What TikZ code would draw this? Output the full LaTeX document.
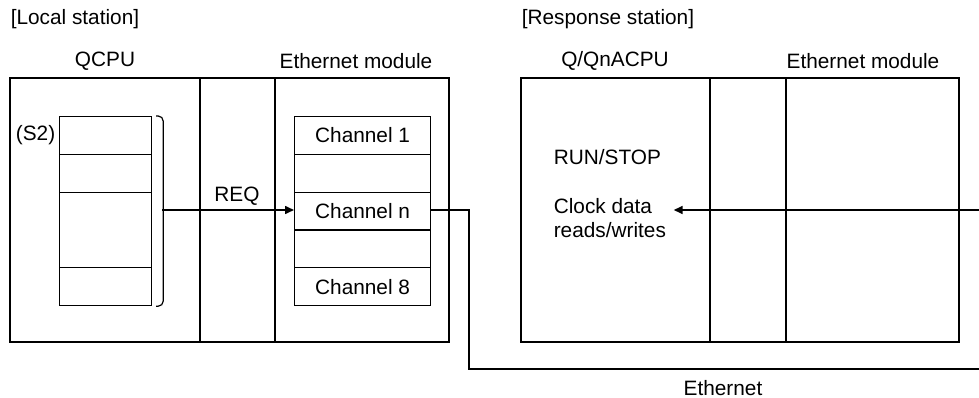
\documentclass[tikz,border=0pt]{standalone}
\usepackage{fontspec}
\setmainfont{Liberation Sans}
\usetikzlibrary{arrows.meta,positioning}

\begin{document}
\begin{tikzpicture}[x=1pt,y=-1pt,line width=1.6pt,>={Triangle[length=9pt,width=8pt]},
every node/.style={font=\fontsize{20.8}{24}\selectfont,inner sep=0pt},
cell/.style={draw,line width=1.2pt,minimum width=136pt,minimum height=37.8pt,anchor=north west},
reg/.style={draw,line width=1.2pt,minimum width=92pt,anchor=north west}]
\useasboundingbox (0,0) rectangle (979,398);
% local station
\node[anchor=west] (loclbl) at (10,19) {[Local station]};
\node (qcpu) at (105,61) {QCPU};
\node (ethl) at (356,61) {Ethernet module};
\draw (10,78) rectangle (449,342)
(200,78)--(200,342)
(275,78)--(275,342);
\node[reg,minimum height=38pt] (s1) at (59,116) {};
\node[reg,minimum height=38pt] (s2) at (59,154) {};
\node[reg,minimum height=75pt] (s3) at (59,192) {};
\node[reg,minimum height=38pt] (s4) at (59,267) {};
\node[left=3pt of s1] (s2lbl) {(S2)};
\draw[line width=1.2pt,rounded corners=5pt] ([xshift=4pt]s1.north east) -- ++(7,0) |- ([xshift=4pt]s4.south east);
\foreach \i/\y/\t in {1/116/Channel 1,2/153.8/,n/191.6/Channel n,4/229.4/,8/267.2/Channel 8}
\node[cell] (ch\i) at (294,\y) {\t};
\coordinate (brk) at (162,210);
\draw[->] (brk) -- (brk -| chn.west);
\node (req) at (237,196) {REQ};
% response station
\node[anchor=west] (reslbl) at (521,19) {[Response station]};
\node (qna) at (615,61) {Q/QnACPU};
\node (ethr) at (863,61) {Ethernet module};
\draw (521,78) rectangle (959,342)
(710,78)--(710,342)
(786,78)--(786,342);
\node[anchor=west] (run) at (553,157) {RUN/STOP};
\node[anchor=west,align=left] (clock) at (553,218) {Clock data\\reads/writes};
\coordinate (rend) at (979,210);
\draw[->] (rend) -- ([xshift=7pt]clock.east |- rend);
% ethernet
\coordinate (ethend) at (979,369);
\draw (brk -| chn.east) -- ++(38,0) |- (ethend);
\node (ether) at (723,388) {Ethernet};
\end{tikzpicture}
\end{document}
